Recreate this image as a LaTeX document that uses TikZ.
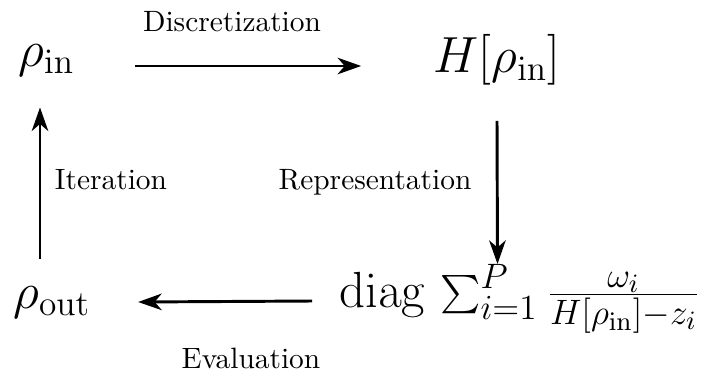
\documentclass[tikz,border=0pt]{standalone}
\usepackage{graphicx}
\usetikzlibrary{arrows.meta,calc}
\begin{document}
\begin{tikzpicture}[x=0.34pt,y=-0.34pt,
  arr/.style={line width=1pt,-{Stealth[length=8pt,width=5.6pt,inset=2.4pt]}},
  mathnode/.style={inner sep=0pt,font=\LARGE},
  lbl/.style={inner sep=0pt,font=\normalsize}]
\useasboundingbox (0,0) rectangle (712,377);
\node[mathnode] (rin) at (46.5,60) {$\rho_{\mathrm{in}}$};
\node[mathnode] (H) at (497,60) {$H[\rho_{\mathrm{in}}]$};
\node[mathnode] (rout) at (52,302) {$\rho_{\mathrm{out}}$};
\node[mathnode] (F) at (520,299) {$\mathrm{diag}$\hspace{5pt}{\fontsize{18.5}{22}\selectfont$\mathop{\vcenter{\hbox{\scalebox{1.3}{$\textstyle\sum$}}}}\nolimits_{i=1}^{P}\frac{\omega_i}{H[\rho_{\mathrm{in}}]-z_i}$}};
\node[lbl] (ld) at (232,22) {Discretization};
\node[lbl] (lr) at (375,182) {Representation};
\node[lbl] (li) at (111,180) {Iteration};
\node[lbl] (le) at (251,358) {Evaluation};
\draw[arr] ($(rin.east)+(60,6)$) -- ($(H.west)+(-72,6)$);
\draw[arr] ($(H.south)+(0,35)$) -- ($(F.north)+(-22.5,0)$);
\draw[arr] ($(F.west)+(-27,2)$) -- ($(rout.east)+(47,0)$);
\draw[arr] ($(rout.north)+(-12,-27)$) -- ($(rin.south)+(-6.5,31)$);
\end{tikzpicture}
\end{document}
